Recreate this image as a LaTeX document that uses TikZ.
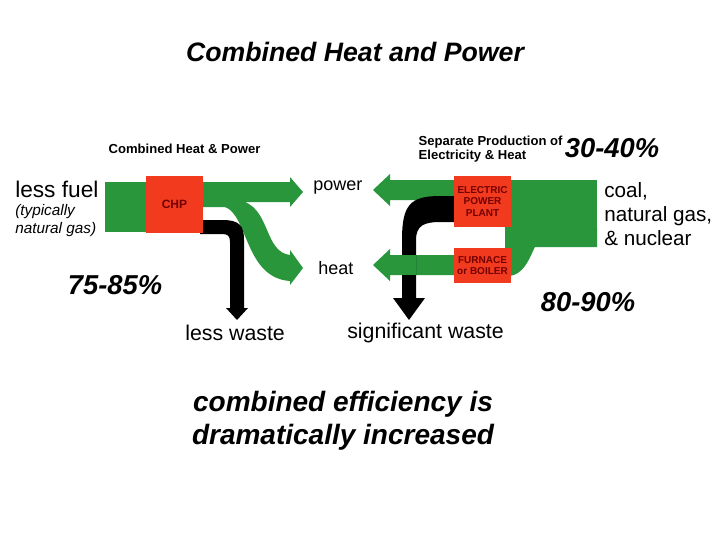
\documentclass[tikz,border=0pt]{standalone}
\usepackage{fontspec}
\setmainfont{Liberation Sans}
\begin{document}
\begin{tikzpicture}[x=0.75pt,y=-0.75pt,
  box/.style={fill=redb, draw=none, minimum width=57*0.75pt, text=red!45!black, font=\bfseries\fontsize{7.5}{8.5}\selectfont, align=center, inner sep=0},
  lbl/.style={font=\fontsize{16}{18}\selectfont, anchor=west, inner sep=0},
  pct/.style={font=\bfseries\itshape\fontsize{20.5}{22}\selectfont, inner sep=0}]
\definecolor{grn}{HTML}{2A963C}
\definecolor{redb}{HTML}{F23A1E}
\useasboundingbox (0,0) rectangle (720,540);
\fill[white] (0,0) rectangle (720,540);
% left CHP
\fill[grn] (105,182) rectangle (150,232);
\fill[grn] (200,182) -- (290,182) -- (290,177) -- (303,192) -- (290,207) -- (290,202) -- (245,202)
  .. controls (270,212) and (265,252) .. (290,255) -- (290,250) -- (303,268) -- (290,285) -- (290,281)
  .. controls (245,278) and (248,215) .. (225,207) -- (200,207) -- cycle;
\fill[black] (200,220) -- (222,220) .. controls (240,220) and (244,226) .. (244,240) -- (244,308) -- (248,308) -- (237,320) -- (226,308) -- (230,308) -- (230,242) .. controls (230,236) and (228,234) .. (222,234) -- (200,234) -- cycle;
\node[box, minimum height=57*0.75pt, font=\bfseries\fontsize{9}{10}\selectfont] (chp) at (174.5,204.5) {CHP};
% right side
\fill[grn] (505,180) rectangle (597,247);
\fill[grn] (597,228) -- (555,228) .. controls (532,228) and (535,272) .. (510,276) -- (505,276) -- (505,247) -- (597,247) -- cycle;
\fill[grn] (460,180) -- (390,180) -- (390,174) -- (373,190) -- (390,206) -- (390,200) -- (460,200) -- cycle;
\fill[grn] (460,255) -- (390,255) -- (390,249) -- (373,265) -- (390,281) -- (390,275) -- (460,275) -- cycle;
\fill[black] (460,196) -- (440,196) .. controls (410,196) and (402,205) .. (402,240) -- (402,298) -- (393,298) -- (409,320) -- (425,298) -- (416,298) -- (416,240) .. controls (416,225) and (425,222) .. (440,222) -- (460,222) -- cycle;
\fill[grn] (390,255) rectangle (416,275);
\node[box, minimum height=51*0.75pt] (epp) at (482.5,201.5) {ELECTRIC\\POWER\\PLANT};
\node[box, minimum height=35*0.75pt] (fur) at (482.5,265.5) {FURNACE\\or BOILER};
% texts
\node[font=\bfseries\itshape\fontsize{20}{22}\selectfont] (title) at (355,52) {Combined Heat and Power};
\node[font=\bfseries\fontsize{9.8}{11}\selectfont, anchor=west] (t1) at (104,149) {Combined Heat \& Power};
\node[font=\bfseries\fontsize{9.8}{11}\selectfont, anchor=west, align=left] (t2) at (414,149) {Separate Production of\\Electricity \& Heat};
\node[lbl, font=\fontsize{17}{19}\selectfont] (fuel) at (15,189) {less fuel};
\node[font=\itshape\fontsize{11.5}{13.5}\selectfont, anchor=north west, align=left, inner sep=0] (typ) at (15,204) {(typically\\natural gas)};
\node[lbl, font=\fontsize{13.5}{15}\selectfont] (pw) at (313,188) {power};
\node[lbl, font=\fontsize{13.5}{15}\selectfont] (ht) at (318,268) {heat};
\node[lbl] (lw) at (185,333) {less waste};
\node[lbl] (sw) at (347,333) {significant waste};
\node[font=\fontsize{15.5}{18}\selectfont, anchor=north west, align=left, inner sep=0] (coal) at (604,182) {coal,\\natural gas,\\\& nuclear};
\node[pct] (p1) at (115,285) {75-85\%};
\node[pct] (p2) at (588,302) {80-90\%};
\node[pct] (p3) at (612,148) {30-40\%};
\node[font=\bfseries\itshape\fontsize{21}{25}\selectfont, align=center] (eff) at (343,421) {combined efficiency is\\dramatically increased};
\end{tikzpicture}
\end{document}
